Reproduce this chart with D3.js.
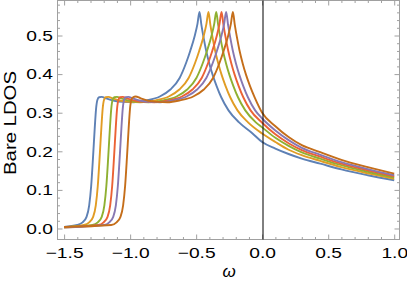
<!DOCTYPE html>
<html>
<head>
<meta charset="utf-8">
<script src="https://cdn.jsdelivr.net/npm/d3@7"></script>
<style>
body { margin: 0; background: #fff; }
text { font-family: "Liberation Sans", Arial, sans-serif; fill: #000; }
</style>
</head>
<body>
<script>
// tick values
var xTicks = [-1.5, -1.0, -0.5, 0.0, 0.5, 1.0];
var yTicks = [0.0, 0.1, 0.2, 0.3, 0.4, 0.5];

// six LDOS curves, [omega, value]
var s1 = [[-1.5,0.004],[-1.4,0.009],[-1.36,0.016],[-1.33,0.03],[-1.31,0.06],[-1.295,0.11],[-1.28,0.19],[-1.268,0.26],[-1.258,0.31],[-1.248,0.333],[-1.235,0.34],[-1.215,0.341],[-1.18,0.337],[-1.12,0.331],[-1.05,0.328],[-0.975,0.327],
  [-0.875,0.332],[-0.775,0.342],[-0.695,0.36],[-0.625,0.39],[-0.575,0.43],[-0.545,0.46],[-0.51,0.50],[-0.49,0.53],[-0.475,0.561],[-0.46,0.527],[-0.445,0.497],[-0.425,0.462],[-0.40,0.427],[-0.375,0.398],[-0.345,0.369],[-0.31,0.34],[-0.255,0.306],[-0.175,0.275],[-0.075,0.247],
  [0,0.224],[0.1,0.207],[0.2,0.193],[0.3,0.181],[0.44,0.168],[0.6,0.153],[0.8,0.138],[1.0,0.125]];
var s2 = [[-1.5,0.003],[-1.35,0.009],[-1.31,0.016],[-1.28,0.03],[-1.26,0.06],[-1.245,0.11],[-1.23,0.19],[-1.218,0.26],[-1.208,0.31],[-1.198,0.333],[-1.185,0.34],[-1.165,0.341],[-1.13,0.337],[-1.07,0.331],[-1.0,0.328],[-0.925,0.327],
  [-0.807,0.332],[-0.707,0.342],[-0.627,0.36],[-0.557,0.39],[-0.507,0.43],[-0.477,0.46],[-0.442,0.50],[-0.422,0.53],[-0.407,0.561],[-0.392,0.527],[-0.377,0.497],[-0.357,0.462],[-0.332,0.427],[-0.307,0.398],[-0.277,0.369],[-0.242,0.34],[-0.187,0.306],[-0.107,0.275],
  [0,0.246],[0.1,0.224],[0.2,0.204],[0.3,0.19],[0.44,0.175],[0.6,0.159],[0.8,0.143],[1.0,0.129]];
var s3 = [[-1.5,0.003],[-1.285,0.009],[-1.245,0.016],[-1.215,0.03],[-1.195,0.06],[-1.18,0.11],[-1.165,0.19],[-1.153,0.26],[-1.143,0.31],[-1.133,0.333],[-1.12,0.34],[-1.10,0.341],[-1.065,0.337],[-1.005,0.331],[-0.935,0.328],[-0.86,0.327],
  [-0.748,0.332],[-0.648,0.342],[-0.568,0.36],[-0.498,0.39],[-0.448,0.43],[-0.418,0.46],[-0.383,0.50],[-0.363,0.53],[-0.348,0.561],[-0.333,0.527],[-0.318,0.497],[-0.298,0.462],[-0.273,0.427],[-0.248,0.398],[-0.218,0.369],[-0.183,0.34],[-0.128,0.306],[-0.048,0.275],
  [0,0.262],[0.1,0.235],[0.2,0.214],[0.3,0.197],[0.44,0.181],[0.6,0.164],[0.8,0.147],[1.0,0.132]];
var s4 = [[-1.5,0.003],[-1.241,0.009],[-1.201,0.016],[-1.171,0.03],[-1.151,0.06],[-1.136,0.11],[-1.121,0.19],[-1.109,0.26],[-1.099,0.31],[-1.089,0.333],[-1.076,0.34],[-1.056,0.341],[-1.021,0.337],[-0.961,0.331],[-0.891,0.328],[-0.816,0.327],
  [-0.708,0.332],[-0.608,0.342],[-0.528,0.36],[-0.458,0.39],[-0.408,0.43],[-0.378,0.46],[-0.343,0.50],[-0.323,0.53],[-0.308,0.561],[-0.293,0.527],[-0.278,0.497],[-0.258,0.462],[-0.233,0.427],[-0.208,0.398],[-0.178,0.369],[-0.143,0.34],[-0.088,0.306],
  [0,0.274],[0.1,0.244],[0.2,0.221],[0.3,0.203],[0.44,0.186],[0.6,0.168],[0.8,0.151],[1.0,0.135]];
var s5 = [[-1.5,0.003],[-1.198,0.009],[-1.158,0.016],[-1.128,0.03],[-1.108,0.06],[-1.093,0.11],[-1.078,0.19],[-1.066,0.26],[-1.056,0.31],[-1.046,0.333],[-1.033,0.34],[-1.013,0.341],[-0.978,0.337],[-0.918,0.331],[-0.848,0.328],[-0.773,0.327],
  [-0.673,0.332],[-0.573,0.342],[-0.493,0.36],[-0.423,0.39],[-0.373,0.43],[-0.343,0.46],[-0.308,0.50],[-0.288,0.53],[-0.273,0.561],[-0.258,0.527],[-0.243,0.497],[-0.223,0.462],[-0.198,0.427],[-0.173,0.398],[-0.143,0.369],[-0.108,0.34],[-0.053,0.306],
  [0,0.285],[0.1,0.254],[0.2,0.229],[0.3,0.209],[0.44,0.191],[0.6,0.172],[0.8,0.154],[1.0,0.138]];
var s6 = [[-1.5,0.004],[-1.143,0.009],[-1.103,0.016],[-1.073,0.03],[-1.053,0.06],[-1.038,0.11],[-1.023,0.19],[-1.011,0.26],[-1.001,0.31],[-0.991,0.333],[-0.978,0.34],[-0.958,0.342],[-0.923,0.338],[-0.863,0.331],[-0.793,0.328],[-0.718,0.327],
  [-0.622,0.332],[-0.522,0.342],[-0.442,0.36],[-0.372,0.39],[-0.322,0.43],[-0.292,0.46],[-0.257,0.50],[-0.237,0.53],[-0.222,0.561],[-0.207,0.527],[-0.192,0.497],[-0.172,0.462],[-0.147,0.427],[-0.122,0.398],[-0.092,0.369],[-0.057,0.34],
  [0,0.30],[0.1,0.265],[0.2,0.237],[0.3,0.216],[0.44,0.198],[0.6,0.178],[0.8,0.159],[1.0,0.142]];

var series = [s1, s2, s3, s4, s5, s6];
var colors = ["#5E81B5", "#E19C24", "#8FB032", "#EB6235", "#8778B3", "#C56E1A"];

var W = 407, H = 290;
var margin = {left: 57.5, top: 0.5, right: 7.5, bottom: 50.5};
var width = W - margin.left - margin.right;
var height = H - margin.top - margin.bottom;

var x = d3.scaleLinear().domain([-1.55, 1.04]).range([0, width]);
var y = d3.scaleLinear().domain([-0.0285, 0.5907]).range([height, 0]);

var svg = d3.select("body").append("svg")
    .attr("width", W)
    .attr("height", H);

var g = svg.append("g")
    .attr("transform", "translate(" + margin.left + "," + margin.top + ")");

g.append("clipPath").attr("id", "clip")
  .append("rect").attr("width", width).attr("height", height);

var fmt = d3.format(".1f");
var xMinor = d3.range(-1.5, 1.05, 0.1).filter(function(v){ return Math.abs(v * 2 - Math.round(v * 2)) > 1e-6; });
var yMinor = d3.range(0, 0.59, 0.02).filter(function(v){ return Math.abs(v * 10 - Math.round(v * 10)) > 1e-6; });

function ax(axis, tr, vals, len, labels) {
  var a = g.append("g").attr("class", "axis").attr("transform", tr)
    .call(axis.tickValues(vals).tickSizeInner(-len).tickSizeOuter(0).tickPadding(labels ? 8 : 0)
      .tickFormat(labels ? fmt : ""));
  a.select(".domain").remove();
  a.selectAll("line").attr("stroke", "#a0a0a0");
  a.selectAll("text").style("font-size", "15px");
  return a;
}

// minor ticks, all four sides
ax(d3.axisBottom(x), "translate(0," + height + ")", xMinor, 2.5, false);
ax(d3.axisTop(x), "translate(0,0)", xMinor, 2.5, false);
ax(d3.axisLeft(y), "translate(0,0)", yMinor, 2.5, false);
ax(d3.axisRight(y), "translate(" + width + ",0)", yMinor, 2.5, false);
// major ticks
var xb = ax(d3.axisBottom(x), "translate(0," + height + ")", xTicks, 5, true);
ax(d3.axisTop(x), "translate(0,0)", xTicks, 5, false);
var yl = ax(d3.axisLeft(y), "translate(0,0)", yTicks, 5, true);
ax(d3.axisRight(y), "translate(" + width + ",0)", yTicks, 5, false);

xb.selectAll("text").attr("dy", "0.71em");
yl.selectAll("text").attr("x", -4.5);

// widen the labels to the reference's proportions
g.selectAll(".axis text").each(function() {
  var t = d3.select(this);
  var w = this.getComputedTextLength();
  t.attr("textLength", w * 1.28).attr("lengthAdjust", "spacingAndGlyphs");
});

// frame
g.append("rect")
    .attr("width", width)
    .attr("height", height)
    .attr("fill", "none")
    .attr("stroke", "#a0a0a0")
    .attr("stroke-width", 1);

var line = d3.line()
    .x(function(d) { return x(d[0]); })
    .y(function(d) { return y(d[1]); })
    .curve(d3.curveMonotoneX);

g.append("g").attr("clip-path", "url(#clip)")
  .selectAll("path")
  .data(series)
  .enter().append("path")
    .attr("d", line)
    .attr("fill", "none")
    .attr("stroke", function(d, i) { return colors[i]; })
    .attr("stroke-width", 1.9)
    .attr("stroke-linejoin", "round");

// omega = 0 line
g.append("line")
    .attr("x1", Math.round(x(0)) + 0.5).attr("x2", Math.round(x(0)) + 0.5)
    .attr("y1", 0).attr("y2", height)
    .attr("stroke", "#000")
    .attr("stroke-width", 1);

svg.append("text")
    .attr("x", 229)
    .attr("y", 277)
    .attr("text-anchor", "middle")
    .style("font-size", "17px")
    .style("font-style", "italic")
    .text("ω");

svg.append("text")
    .attr("transform", "translate(15.5,123) rotate(-90)")
    .attr("text-anchor", "middle")
    .attr("textLength", 104)
    .attr("lengthAdjust", "spacingAndGlyphs")
    .style("font-size", "16px")
    .text("Bare LDOS");
</script>
</body>
</html>
